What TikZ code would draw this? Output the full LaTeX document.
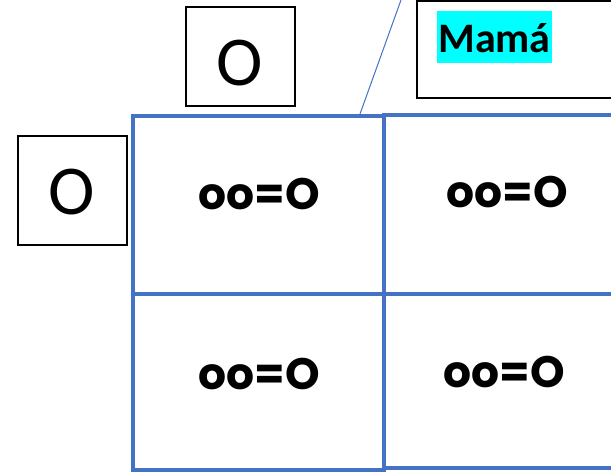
\documentclass[tikz,border=0pt]{standalone}
\usepackage{fontspec}
\newfontfamily\carlito{Carlito}
\newfontfamily\popp{Poppins}
\begin{document}
\begin{tikzpicture}[x=1pt,y=-1pt,
  cell/.style={draw=cellblue,line width=3.5pt,inner sep=0pt},
  bbox/.style={draw=black,line width=1.6pt,inner sep=0pt},
  celltext/.style={inner sep=0pt,font=\popp\bfseries\fontsize{44}{44}\selectfont},
  bigo/.style={inner sep=0pt,font=\carlito\fontsize{70}{70}\selectfont},
  ]
\definecolor{cellblue}{HTML}{4472C4}
\definecolor{hlcyan}{HTML}{00FFFF}
\useasboundingbox (0,0) rectangle (611,473);
% header boxes
\node[bbox,minimum width=109pt,minimum height=99pt] (topbox) at (240.5,56.5) {};
\node[bigo] (topO) at (240,63) {O};
\node[bbox,minimum width=109pt,minimum height=109pt] (leftbox) at (72.5,190.5) {};
\node[bigo] (leftO) at (72,192) {O};
% Mama box
\node[bbox,minimum width=210pt,minimum height=97pt] (mamabox) at (522,49.5) {};
\node[fill=hlcyan,inner sep=0pt,minimum width=115pt,minimum height=52pt] (mamahl) at (494.5,37) {};
\node[inner sep=0pt,font=\carlito\bfseries\fontsize{42}{42}\selectfont] (mama) at (494.5,38.5) {Mamá};
% grid cells
\node[cell,minimum width=251pt,minimum height=178pt] (tl) at (258.5,205) {};
\node[cell,minimum width=251pt,minimum height=176pt] (bl) at (258.5,382) {};
\node[cell,minimum width=236pt,minimum height=179pt] (tr) at (502,204.5) {};
\node[cell,minimum width=236pt,minimum height=174pt] (br) at (502,381) {};
\node[celltext] (tlt) at (259,194.5) {oo=O};
\node[celltext] (trt) at (507,192.5) {oo=O};
\node[celltext] (blt) at (259.5,374) {oo=O};
\node[celltext] (brt) at (504.5,372) {oo=O};
% slanted line
\coordinate (s1) at (360,114);
\coordinate (s2) at (401,0);
\draw[cellblue,line width=1pt] (s1) -- (s2);
\end{tikzpicture}
\end{document}
